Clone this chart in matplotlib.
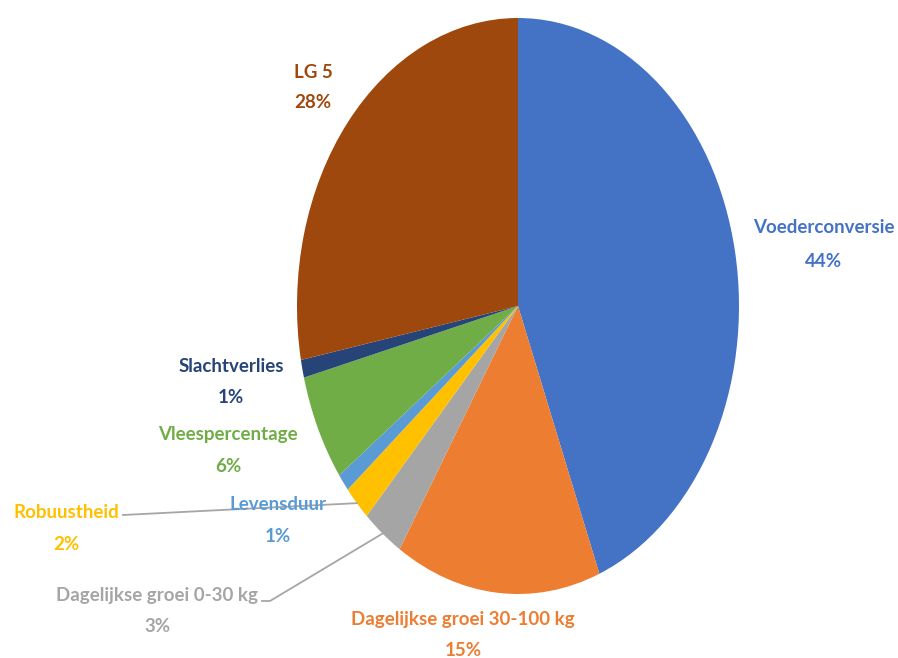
import matplotlib
matplotlib.use('Agg')
import matplotlib.pyplot as plt
import numpy as np


# slices, clockwise from the top
labels = ['Voederconversie', 'Dagelijkse groei 30-100 kg', 'Dagelijkse groei 0-30 kg',
          'Robuustheid', 'Levensduur', 'Vleespercentage', 'Slachtverlies', 'LG 5']
values = [44, 15, 3, 2, 1, 6, 1, 28]
colors = ['#4472C4', '#ED7D31', '#A5A5A5', '#FFC000', '#5B9BD5', '#70AD47', '#264478', '#9E480E']

plt.rcParams['font.family'] = ['Lato', 'DejaVu Sans']

W, H = 898, 658
CX, CY, RX, RY = 518, 306, 221, 288   # pie centre / radii in pixels


def px(x, y):
    # pixel position -> data coords (pie radius = 1)
    return (x - CX) / RX, (CY - y) / RY


fig = plt.figure(figsize=(W / 100, H / 100), dpi=100)
ax = fig.add_axes([0, 0, 1, 1])

wedges, _ = ax.pie(values, colors=colors, startangle=90, counterclock=False,
                   wedgeprops=dict(linewidth=0))
ax.set_aspect('auto')
ax.set_xlim(px(0, 0)[0], px(W, 0)[0])
ax.set_ylim(px(0, H)[1], px(0, 0)[1])
ax.axis('off')

# label centres (pixels): x, name line y, percent line y
label_pos = {
    'Voederconversie': (824, 228, 262),
    'Dagelijkse groei 30-100 kg': (463, 619, 650),
    'Dagelijkse groei 0-30 kg': (157, 595, 626),
    'Robuustheid': (66, 512, 544),
    'Levensduur': (278, 505, 537),
    'Vleespercentage': (228, 435, 467),
    'Slachtverlies': (231, 367, 398),
    'LG 5': (313, 72, 103),
}

# leader lines (drawn under the text)
leaders = {
    'Robuustheid': [(123, 515)],
    'Dagelijkse groei 0-30 kg': [(270, 601), (262, 601)],
}
for w, lab in zip(wedges, labels):
    if lab in leaders:
        th = np.deg2rad((w.theta1 + w.theta2) / 2)
        xs = [np.cos(th)] + [px(*p)[0] for p in leaders[lab]]
        ys = [np.sin(th)] + [px(*p)[1] for p in leaders[lab]]
        ax.plot(xs, ys, color='#A6A6A6', lw=1.3, zorder=1)

for lab, pct, col in zip(labels, values, colors):
    x, y1, y2 = label_pos[lab]
    ax.text(*px(x, y1), lab, color=col, fontsize=13.5, fontweight='bold',
            ha='center', va='center', zorder=3)
    ax.text(*px(x, y2), f'{pct}%', color=col, fontsize=13.5, fontweight='bold',
            ha='center', va='center', zorder=3)

fig.savefig('out.png', dpi=100)
